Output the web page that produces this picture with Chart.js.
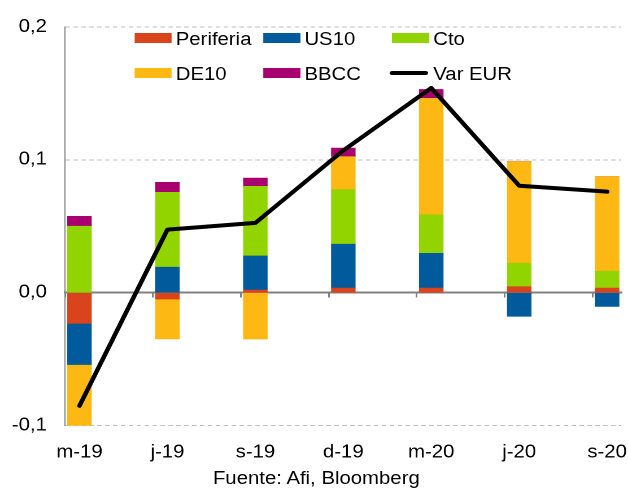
<!DOCTYPE html>
<html><head><meta charset="utf-8">
<script src="https://cdn.jsdelivr.net/npm/chart.js@4"></script>
<style>
html,body{margin:0;padding:0;background:#fff;overflow:hidden;width:628px;height:488px;}
#wrap{position:absolute;left:0;top:0;width:556px;height:488px;transform:scaleX(1.1295);transform-origin:0 0;font-family:"Liberation Sans",Arial,sans-serif;color:#000;}
#c{position:absolute;left:0;top:0;}
.tx{position:absolute;font-size:18px;line-height:18px;white-space:nowrap;}
.sw{position:absolute;}
</style></head><body>
<div id="wrap"><canvas id="c" width="556" height="488"></canvas><div id="legend"></div><div class="tx" style="left:188.5px;top:469px">Fuente: Afi, Bloomberg</div></div>
<script>
const labels = ['m-19','j-19','s-19','d-19','m-20','j-20','s-20'];
const periferia = [-0.023, -0.0047, 0.002, 0.0035, 0.0035, 0.0045, 0.0035];
const us10 = [-0.031, 0.0192, 0.0257, 0.033, 0.0261, -0.0177, -0.0103];
const cto = [0.050, 0.0563, 0.0523, 0.041, 0.029, 0.0177, 0.0127];
const de10 = [-0.047, -0.030, -0.0348, 0.0248, 0.0876, 0.0764, 0.0712];
const bbcc = [0.0075, 0.0075, 0.0062, 0.0065, 0.0067, 0, 0];
const varEur = [-0.085, 0.0475, 0.0525, 0.107, 0.154, 0.0805, 0.076];
const yTicks = [-0.1, 0, 0.1, 0.2];

const seriesNames = ['Periferia','US10','Cto','DE10','BBCC'];
const seriesData = [periferia, us10, cto, de10, bbcc];
const seriesColors = ['#D9441C','#005A9C','#92D400','#FDB813','#A8006E'];
const lineName = 'Var EUR';
const lineColor = '#000000';

const X_MIN = -0.165, X_MAX = 6.16;
const font = {family: '"Liberation Sans", Arial, sans-serif', size: 18};

const toPts = arr => arr.map((v, i) => ({x: i, y: v}));

const datasets = seriesData.map((arr, k) => ({
  type: 'bar', label: seriesNames[k], data: toPts(arr),
  backgroundColor: seriesColors[k], borderWidth: 0, barThickness: 21, order: 1
}));
datasets.push({
  type: 'line', label: lineName, data: toPts(varEur), borderColor: lineColor,
  borderWidth: 4, pointRadius: 0, tension: 0, borderCapStyle: 'round', borderJoinStyle: 'round',
  order: -1, stack: 'eur', fill: false
});

new Chart(document.getElementById('c'), {
  data: {datasets},
  options: {
    responsive: false, animation: false, devicePixelRatio: 2,
    layout: {padding: {top: 22, right: 6, left: 0, bottom: 0}},
    plugins: {legend: {display: false}, tooltip: {enabled: false}},
    scales: {
      x: {
        type: 'linear', min: X_MIN, max: X_MAX, stacked: true, position: 'bottom', offset: false,
        grid: {display: false, drawTicks: false, offset: false}, border: {display: false},
        afterBuildTicks: s => { s.ticks = labels.map((_, i) => ({value: i})); },
        afterFit: s => { s.height = 62.3; s.paddingLeft = 0; s.paddingRight = 0; },
        ticks: {font, color: '#000', padding: 16, maxRotation: 0, autoSkip: false,
          callback: v => labels[Math.round(v)]}
      },
      x2: {
        type: 'linear', min: X_MIN, max: X_MAX, position: {y: 0}, z: 1, offset: false,
        afterBuildTicks: s => { s.ticks = labels.map((_, i) => ({value: X_MIN + i})); },
        grid: {drawOnChartArea: false, drawTicks: true, tickLength: 4, color: '#808080', lineWidth: 1.5, offset: false},
        border: {display: true, color: '#808080', width: 2},
        ticks: {display: false}
      },
      y: {
        type: 'linear', min: -0.1, max: 0.2, stacked: true,
        afterBuildTicks: s => { s.ticks = yTicks.map(v => ({value: v})); },
        afterFit: s => { s.width = 57.5; },
        grid: {color: '#c0c0c0', lineWidth: 1, drawTicks: false},
        border: {display: true, color: '#868686', width: 1, dash: [4, 3]},
        ticks: {font, color: '#000', padding: 16,
          callback: v => (Math.round(v * 10) / 10).toFixed(1).replace('.', ',')}
      }
    }
  }
});

// HTML legend built from series arrays
const legend = document.getElementById('legend');
const colX = [118.6, 232.5, 346.6];
const rowY = [38.3, 73.2];
const items = seriesNames.map((n, k) => ({name: n, color: seriesColors[k], line: false}));
items.push({name: lineName, color: lineColor, line: true});
items.forEach((it, i) => {
  const cx = colX[i % 3], cy = rowY[Math.floor(i / 3)];
  const sw = document.createElement('div');
  sw.className = 'sw';
  if (it.line) {
    sw.style.cssText = `left:${cx - 2}px;top:${cy - 2}px;width:34.5px;height:4px;border-radius:2px;background:${it.color}`;
  } else {
    sw.style.cssText = `left:${cx}px;top:${cy - 5}px;width:33.5px;height:10px;background:${it.color}`;
  }
  legend.appendChild(sw);
  const t = document.createElement('div');
  t.className = 'tx';
  t.textContent = it.name;
  t.style.left = (cx + 37) + 'px';
  t.style.top = (cy - 8.5) + 'px';
  legend.appendChild(t);
});
</script>
</body></html>
